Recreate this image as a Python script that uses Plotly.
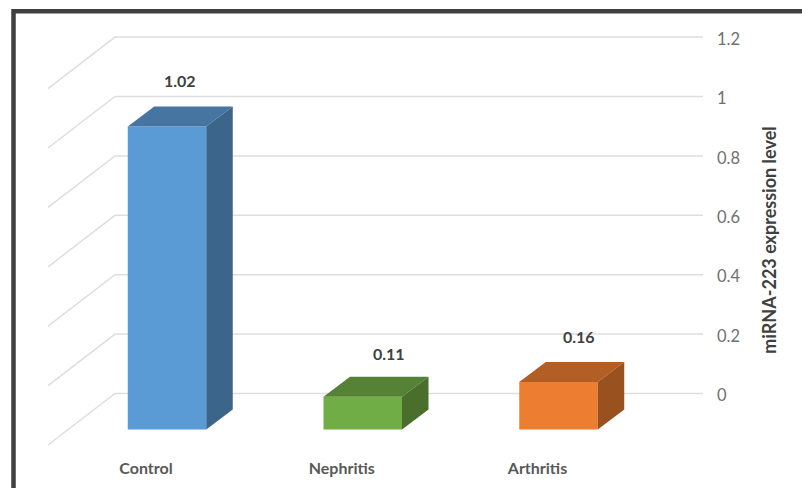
import plotly.graph_objects as go

# Chart data
categories = ["Control", "Nephritis", "Arthritis"]
expression = [1.02, 0.11, 0.16]
value_ticks = [0, 0.2, 0.4, 0.6, 0.8, 1, 1.2]
tick_labels = ["0", "0.2", "0.4", "0.6", "0.8", "1", "1.2"]

# Face colours per bar
front_colors = ["#5B9BD5", "#70AD47", "#ED7D31"]
top_colors = ["#4675A1", "#558235", "#B25E24"]
side_colors = ["#3B6589", "#4A6E2B", "#99511F"]

# Canvas and plot box, in pixels
WIDTH, HEIGHT = 802, 488
PLOT_L, PLOT_R, PLOT_T, PLOT_B = 0, 716, 23, 457

# Scales: pixels per category step and per expression unit
STEP_PX = 195.75
UNIT_PX = 297.0
FIRST_CENTER_PX = 167.0
ZERO_PX = 393.5

x_range = [(PLOT_L - FIRST_CENTER_PX) / STEP_PX, (PLOT_R - FIRST_CENTER_PX) / STEP_PX]
y_range = [(ZERO_PX - PLOT_B) / UNIT_PX, (ZERO_PX - PLOT_T) / UNIT_PX]

# Pseudo-3D geometry, in axis units
BAR_WIDTH = 78.5 / STEP_PX
FLOOR_DROP = 36.0 / UNIT_PX       # front plane of the bars sits below the back wall's zero
DEPTH_X = 26.5 / STEP_PX          # bar depth projected on x
DEPTH_Y = 20.0 / UNIT_PX          # bar depth projected on y
WALL_LEFT = (115 - FIRST_CENTER_PX) / STEP_PX
WALL_RIGHT = (703 - FIRST_CENTER_PX) / STEP_PX
WALL_FRONT_X = (48 - FIRST_CENTER_PX) / STEP_PX
WALL_FRONT_DROP = 51.5 / UNIT_PX
LABEL_SHIFT_X = [0.064, 0.134, 0.105]
LABEL_LIFT = [0.155, 0.145, 0.152]
CATEGORY_SHIFT = -21.0 / STEP_PX

fig = go.Figure()

# Front faces
fig.add_trace(go.Bar(
    x=list(range(len(categories))),
    y=expression,
    base=-FLOOR_DROP,
    width=BAR_WIDTH,
    marker=dict(color=front_colors, line=dict(width=0)),
    hoverinfo="skip",
    showlegend=False,
))

# Top and side faces, projected from each bar's value
for i, value in enumerate(expression):
    left = i - BAR_WIDTH / 2
    right = i + BAR_WIDTH / 2
    top = value - FLOOR_DROP
    bottom = -FLOOR_DROP
    fig.add_trace(go.Scatter(
        x=[left, right, right + DEPTH_X, left + DEPTH_X, left],
        y=[top, top, top + DEPTH_Y, top + DEPTH_Y, top],
        mode="lines", fill="toself", fillcolor=top_colors[i],
        line=dict(width=0), hoverinfo="skip", showlegend=False,
    ))
    fig.add_trace(go.Scatter(
        x=[right, right + DEPTH_X, right + DEPTH_X, right, right],
        y=[bottom, bottom + DEPTH_Y, top + DEPTH_Y, top, bottom],
        mode="lines", fill="toself", fillcolor=side_colors[i],
        line=dict(width=0), hoverinfo="skip", showlegend=False,
    ))

# Gridlines along the back and side walls, kept behind the bars
shapes = []
for tick in value_ticks:
    shapes.append(dict(
        type="path", xref="x", yref="y", layer="below",
        path=(f"M {WALL_FRONT_X},{tick - WALL_FRONT_DROP} "
              f"L {WALL_LEFT},{tick} L {WALL_RIGHT},{tick}"),
        line=dict(color="#DEDEDE", width=1.5),
    ))

# Dark frame along the top and left edges
def px_x(v):
    return (v - PLOT_L) / (PLOT_R - PLOT_L)

def px_y(v):
    return (PLOT_B - v) / (PLOT_B - PLOT_T)

shapes.append(dict(
    type="path", xref="paper", yref="paper", layer="above",
    path=(f"M {px_x(13.5)},{px_y(490)} L {px_x(13.5)},{px_y(11.3)} "
          f"L {px_x(804)},{px_y(11.3)}"),
    line=dict(color="#404040", width=4.5),
))

# Value labels above the bars
annotations = [
    dict(
        x=i + LABEL_SHIFT_X[i],
        y=value - FLOOR_DROP + LABEL_LIFT[i],
        text=f"<b>{value:.2f}</b>",
        showarrow=False, xanchor="center", yanchor="middle",
        font=dict(family="Lato", size=16, color="#404040"),
    )
    for i, value in enumerate(expression)
]

fig.update_layout(
    width=WIDTH,
    height=HEIGHT,
    margin=dict(l=PLOT_L, r=WIDTH - PLOT_R, t=PLOT_T, b=HEIGHT - PLOT_B, pad=0),
    paper_bgcolor="white",
    plot_bgcolor="white",
    showlegend=False,
    shapes=shapes,
    annotations=annotations,
    xaxis=dict(
        range=x_range,
        tickvals=[i + CATEGORY_SHIFT for i in range(len(categories))],
        ticktext=[f"<b>{c}</b>" for c in categories],
        tickfont=dict(family="Lato", size=16, color="#595959"),
        ticks="", showgrid=False, zeroline=False, showline=False,
        fixedrange=True,
    ),
    yaxis=dict(
        range=y_range,
        side="right",
        tickvals=value_ticks,
        ticktext=tick_labels,
        tickfont=dict(family="Lato", size=16.5, color="#707070"),
        ticklabelshift=2,
        ticks="", showgrid=False, zeroline=False, showline=False,
        fixedrange=True,
        title=dict(
            text="<b>miRNA-223 expression level</b>",
            font=dict(family="Lato", size=18, color="#404040"),
            standoff=23,
        ),
    ),
)

fig.write_html("out.html", config=dict(displayModeBar=False))
